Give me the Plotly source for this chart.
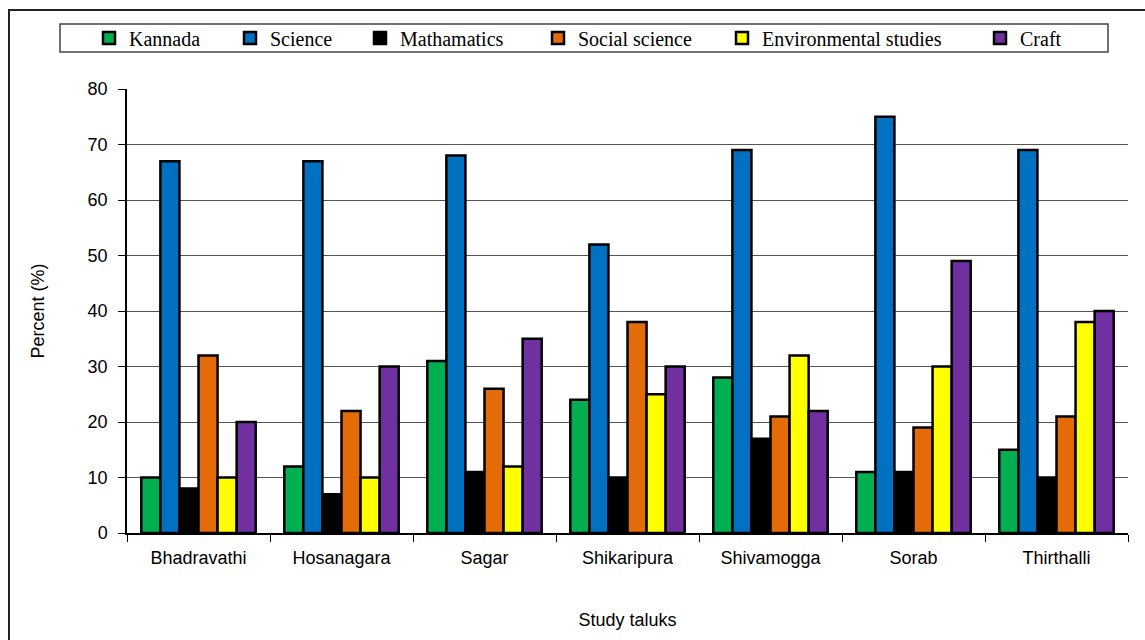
import plotly.graph_objects as go

# Study taluks (x categories)
taluks = ["Bhadravathi", "Hosanagara", "Sagar", "Shikaripura",
          "Shivamogga", "Sorab", "Thirthalli"]

# Percent of respondents per subject, one list per series
kannada = [10, 12, 31, 24, 28, 11, 15]
science = [67, 67, 68, 52, 69, 75, 69]
mathamatics = [8, 7, 11, 10, 17, 11, 10]
social_science = [32, 22, 26, 38, 21, 19, 21]
environmental_studies = [10, 10, 12, 25, 32, 30, 38]
craft = [20, 30, 35, 30, 22, 49, 40]

y_ticks = [0, 10, 20, 30, 40, 50, 60, 70, 80]

series = [
    ("Kannada", kannada, "#00B050"),
    ("Science", science, "#0070C0"),
    ("Mathamatics", mathamatics, "#000000"),
    ("Social science", social_science, "#E36C09"),
    ("Environmental studies", environmental_studies, "#FFFF00"),
    ("Craft", craft, "#7030A0"),
]

# pixel geometry of the plot area
W, H = 1145, 640
L, R, T, B = 127, 17, 89, 107
pw, ph = W - L - R, H - T - B


def px_x(p):
    return (p - L) / pw


def px_y(p):
    return (H - B - p) / ph


# each legend entry gets its own legend so that it can be placed freely
legend_left_px = [89, 230, 360, 538, 722, 980]
legend_ids = ["legend", "legend2", "legend3", "legend4", "legend5", "legend6"]

fig = go.Figure()
for (name, vals, color), lid in zip(series, legend_ids):
    fig.add_trace(go.Bar(
        name=name, x=taluks, y=vals,
        marker=dict(color=color, line=dict(color="#000000", width=2.5)),
        legend=lid,
    ))

legend_font = dict(family="Liberation Serif, Times New Roman, serif",
                   size=20, color="#000000")
legend_layout = {}
for lid, lx in zip(legend_ids, legend_left_px):
    legend_layout[lid] = dict(
        x=px_x(lx), xanchor="left", y=px_y(38), yanchor="middle",
        orientation="h", bgcolor="rgba(0,0,0,0)", borderwidth=0,
        font=legend_font, itemwidth=30,
    )

axis_font = dict(family="Liberation Sans, Arial, sans-serif", size=18,
                 color="#000000")

fig.update_layout(
    width=W, height=H,
    margin=dict(l=L, r=R, t=T, b=B, pad=0),
    paper_bgcolor="#FFFFFF", plot_bgcolor="#FFFFFF",
    barmode="group", bargap=0.2, bargroupgap=0,
    font=axis_font,
    showlegend=True,
    **legend_layout,
    xaxis=dict(
        title=dict(text="Study taluks", font=axis_font, standoff=46),
        tickfont=axis_font, showline=True, linecolor="#000000",
        linewidth=1.5, ticks="outside", ticklen=7, tickcolor="#000000",
        tickson="boundaries", ticklabelstandoff=8,
        showgrid=False, zeroline=False,
    ),
    yaxis=dict(
        title=dict(text="Percent (%)", font=axis_font, standoff=38),
        tickfont=axis_font, range=[0, 80], tickvals=y_ticks,
        showline=True, linecolor="#000000", linewidth=1.5,
        ticks="outside", ticklen=7, tickcolor="#000000",
        ticklabelstandoff=7,
        showgrid=True, gridcolor="#555555", gridwidth=1.2, zeroline=False,
    ),
    shapes=[
        # outer chart frame
        dict(type="rect", xref="paper", yref="paper",
             x0=px_x(9), x1=px_x(W + 20), y0=px_y(H + 20), y1=px_y(10),
             line=dict(color="#222222", width=2), fillcolor="rgba(0,0,0,0)",
             layer="below"),
        # legend box
        dict(type="rect", xref="paper", yref="paper",
             x0=px_x(60), x1=px_x(1108), y0=px_y(52), y1=px_y(24),
             line=dict(color="#444444", width=1.5),
             fillcolor="rgba(0,0,0,0)"),
    ],
)

fig.write_html("out.html")
